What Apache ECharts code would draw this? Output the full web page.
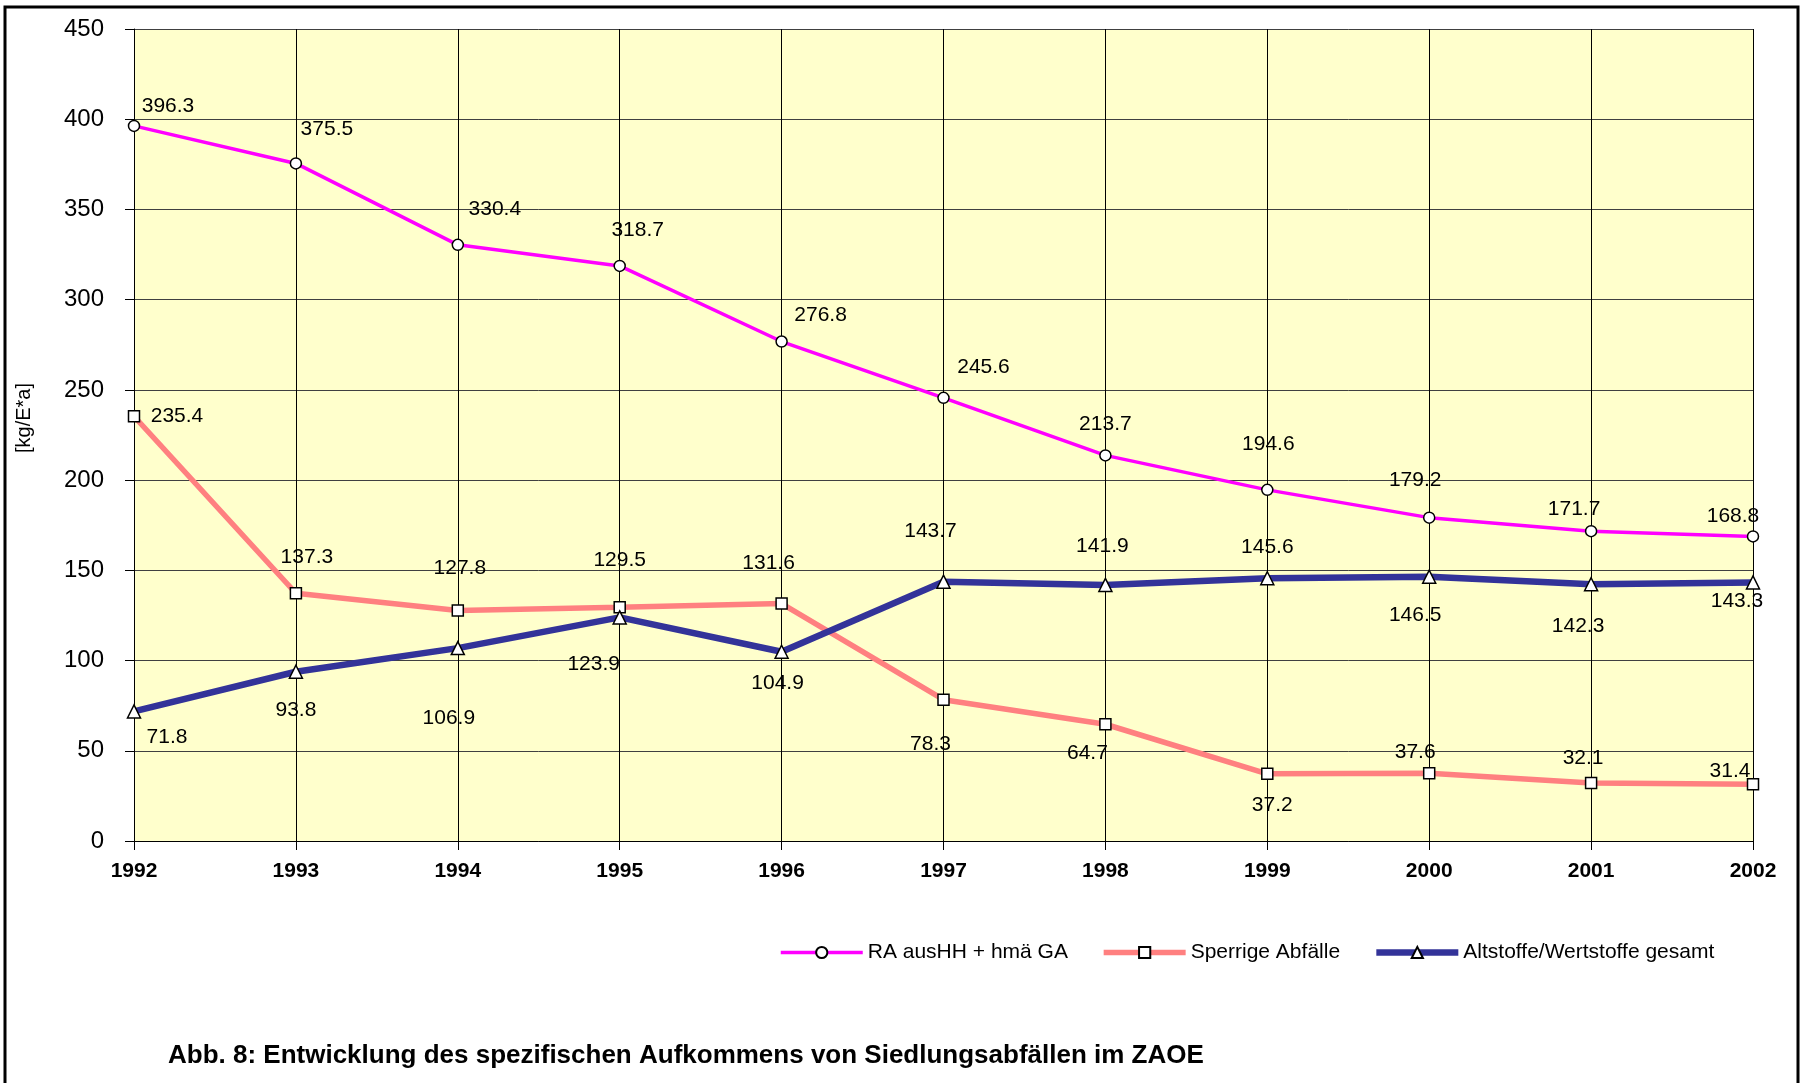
<!DOCTYPE html>
<html>
<head>
<meta charset="utf-8">
<title>Abb. 8</title>
<script src="https://cdn.jsdelivr.net/npm/echarts@6/dist/echarts.min.js"></script>
<style>
  html, body { margin: 0; padding: 0; background: #fff; }
  #chart { width: 1802px; height: 1083px; }
</style>
</head>
<body>
<div id="chart"></div>
<script>
// Spezifisches Aufkommen von Siedlungsabfällen im ZAOE, kg je Einwohner und Jahr

const years = ['1992', '1993', '1994', '1995', '1996', '1997', '1998', '1999', '2000', '2001', '2002'];

const seriesNames = ['RA ausHH + hmä GA', 'Sperrige Abfälle', 'Altstoffe/Wertstoffe gesamt'];

const restabfall = [396.3, 375.5, 330.4, 318.7, 276.8, 245.6, 213.7, 194.6, 179.2, 171.7, 168.8];
const sperrige = [235.4, 137.3, 127.8, 129.5, 131.6, 78.3, 64.7, 37.2, 37.6, 32.1, 31.4];
const altstoffe = [71.8, 93.8, 106.9, 123.9, 104.9, 143.7, 141.9, 145.6, 146.5, 142.3, 143.3];

const yTicks = { min: 0, max: 450, step: 50 };

// label placement relative to each point (px), like the hand-moved labels in the original
const restabfallLabelPos = [[34, -20], [31, -34], [37, -36], [18, -36], [39, -26], [40, -31], [0, -31], [1, -46], [-14, -37], [-17, -22], [-20, -20]];
const sperrigeLabelPos = [[43, 0], [11, -36], [2, -42], [0, -47], [-13, -40], [-13, 44], [-18, 29], [5, 31], [-14, -21], [-8, -25], [-23, -13]];
const altstoffeLabelPos = [[33, 26], [0, 38], [-9, 70], [-26, 47], [-4, 31], [-13, -50], [-3, -39], [0, -31], [-14, 39], [-13, 42], [-16, 19]];

const colors = ['#FF00FF', '#FF8080', '#333399'];
const widths = [3.5, 5.5, 6.5];

const font = '"Liberation Sans", Arial, Helvetica, sans-serif';

function withLabels(values, pos) {
  return values.map((v, i) => ({ value: v, label: { offset: pos[i] } }));
}

function lineSeries(idx, values, pos, symbol, size) {
  return {
    name: seriesNames[idx],
    type: 'line',
    data: withLabels(values, pos),
    symbol: symbol,
    symbolSize: size,
    showAllSymbol: true,
    lineStyle: { color: colors[idx], width: widths[idx] },
    itemStyle: { color: '#ffffff', borderColor: '#000000', borderWidth: 1.5 },
    emphasis: { disabled: true },
    animation: false,
    label: {
      show: true,
      position: 'inside',
      align: 'center',
      verticalAlign: 'middle',
      color: '#000',
      fontFamily: font,
      fontSize: 21,
      formatter: p => p.value.toFixed(1)
    }
  };
}

const chart = echarts.init(document.getElementById('chart'));

chart.setOption({
  backgroundColor: '#ffffff',
  animation: false,
  title: {
    text: 'Abb. 8: Entwicklung des spezifischen Aufkommens von Siedlungsabfällen im ZAOE',
    left: 163,
    top: 1038,
    textStyle: { fontFamily: font, fontSize: 26, fontWeight: 'bold', color: '#000' }
  },
  legend: {
    left: 779,
    top: 942,
    padding: 0,
    itemWidth: 82,
    itemHeight: 14,
    itemGap: 33,
    data: seriesNames.map((n, i) => ({ name: n, lineStyle: { color: colors[i], width: widths[i] } })),
    lineStyle: { width: 'inherit' },
    textStyle: { fontFamily: font, fontSize: 21, color: '#000' }
  },
  grid: {
    left: 134,
    right: 49,
    top: 29,
    bottom: 242,
    show: true,
    backgroundColor: '#FFFFCC',
    borderWidth: 0
  },
  xAxis: {
    type: 'category',
    data: years,
    boundaryGap: false,
    axisLine: { lineStyle: { color: '#000', width: 1 } },
    axisTick: { show: true, length: 9, lineStyle: { color: '#000' } },
    splitLine: { show: true, lineStyle: { color: '#000', width: 1 } },
    axisLabel: { fontFamily: font, fontSize: 21, fontWeight: 'bold', color: '#000', margin: 20 }
  },
  yAxis: {
    type: 'value',
    min: yTicks.min,
    max: yTicks.max,
    interval: yTicks.step,
    name: '[kg/E*a]',
    nameLocation: 'middle',
    nameGap: 100,
    nameTextStyle: { fontFamily: font, fontSize: 20, color: '#000', padding: [0, 0, 0, 34] },
    axisLine: { show: true, lineStyle: { color: '#000', width: 1 } },
    axisTick: { show: true, length: 9, lineStyle: { color: '#000' } },
    splitLine: { show: true, lineStyle: { color: '#404040', width: 1 } },
    axisLabel: { fontFamily: font, fontSize: 24, color: '#000', margin: 30 }
  },
  graphic: [{
    type: 'rect',
    shape: { x: 5, y: 7, width: 1793, height: 1090 },
    style: { fill: null, stroke: '#000', lineWidth: 3 },
    silent: true,
    z: 100
  }],
  series: [
    lineSeries(0, restabfall, restabfallLabelPos, 'circle', 11),
    lineSeries(1, sperrige, sperrigeLabelPos, 'rect', 11),
    lineSeries(2, altstoffe, altstoffeLabelPos, 'triangle', 13)
  ]
});

window.addEventListener('resize', () => chart.resize());
</script>
</body>
</html>
